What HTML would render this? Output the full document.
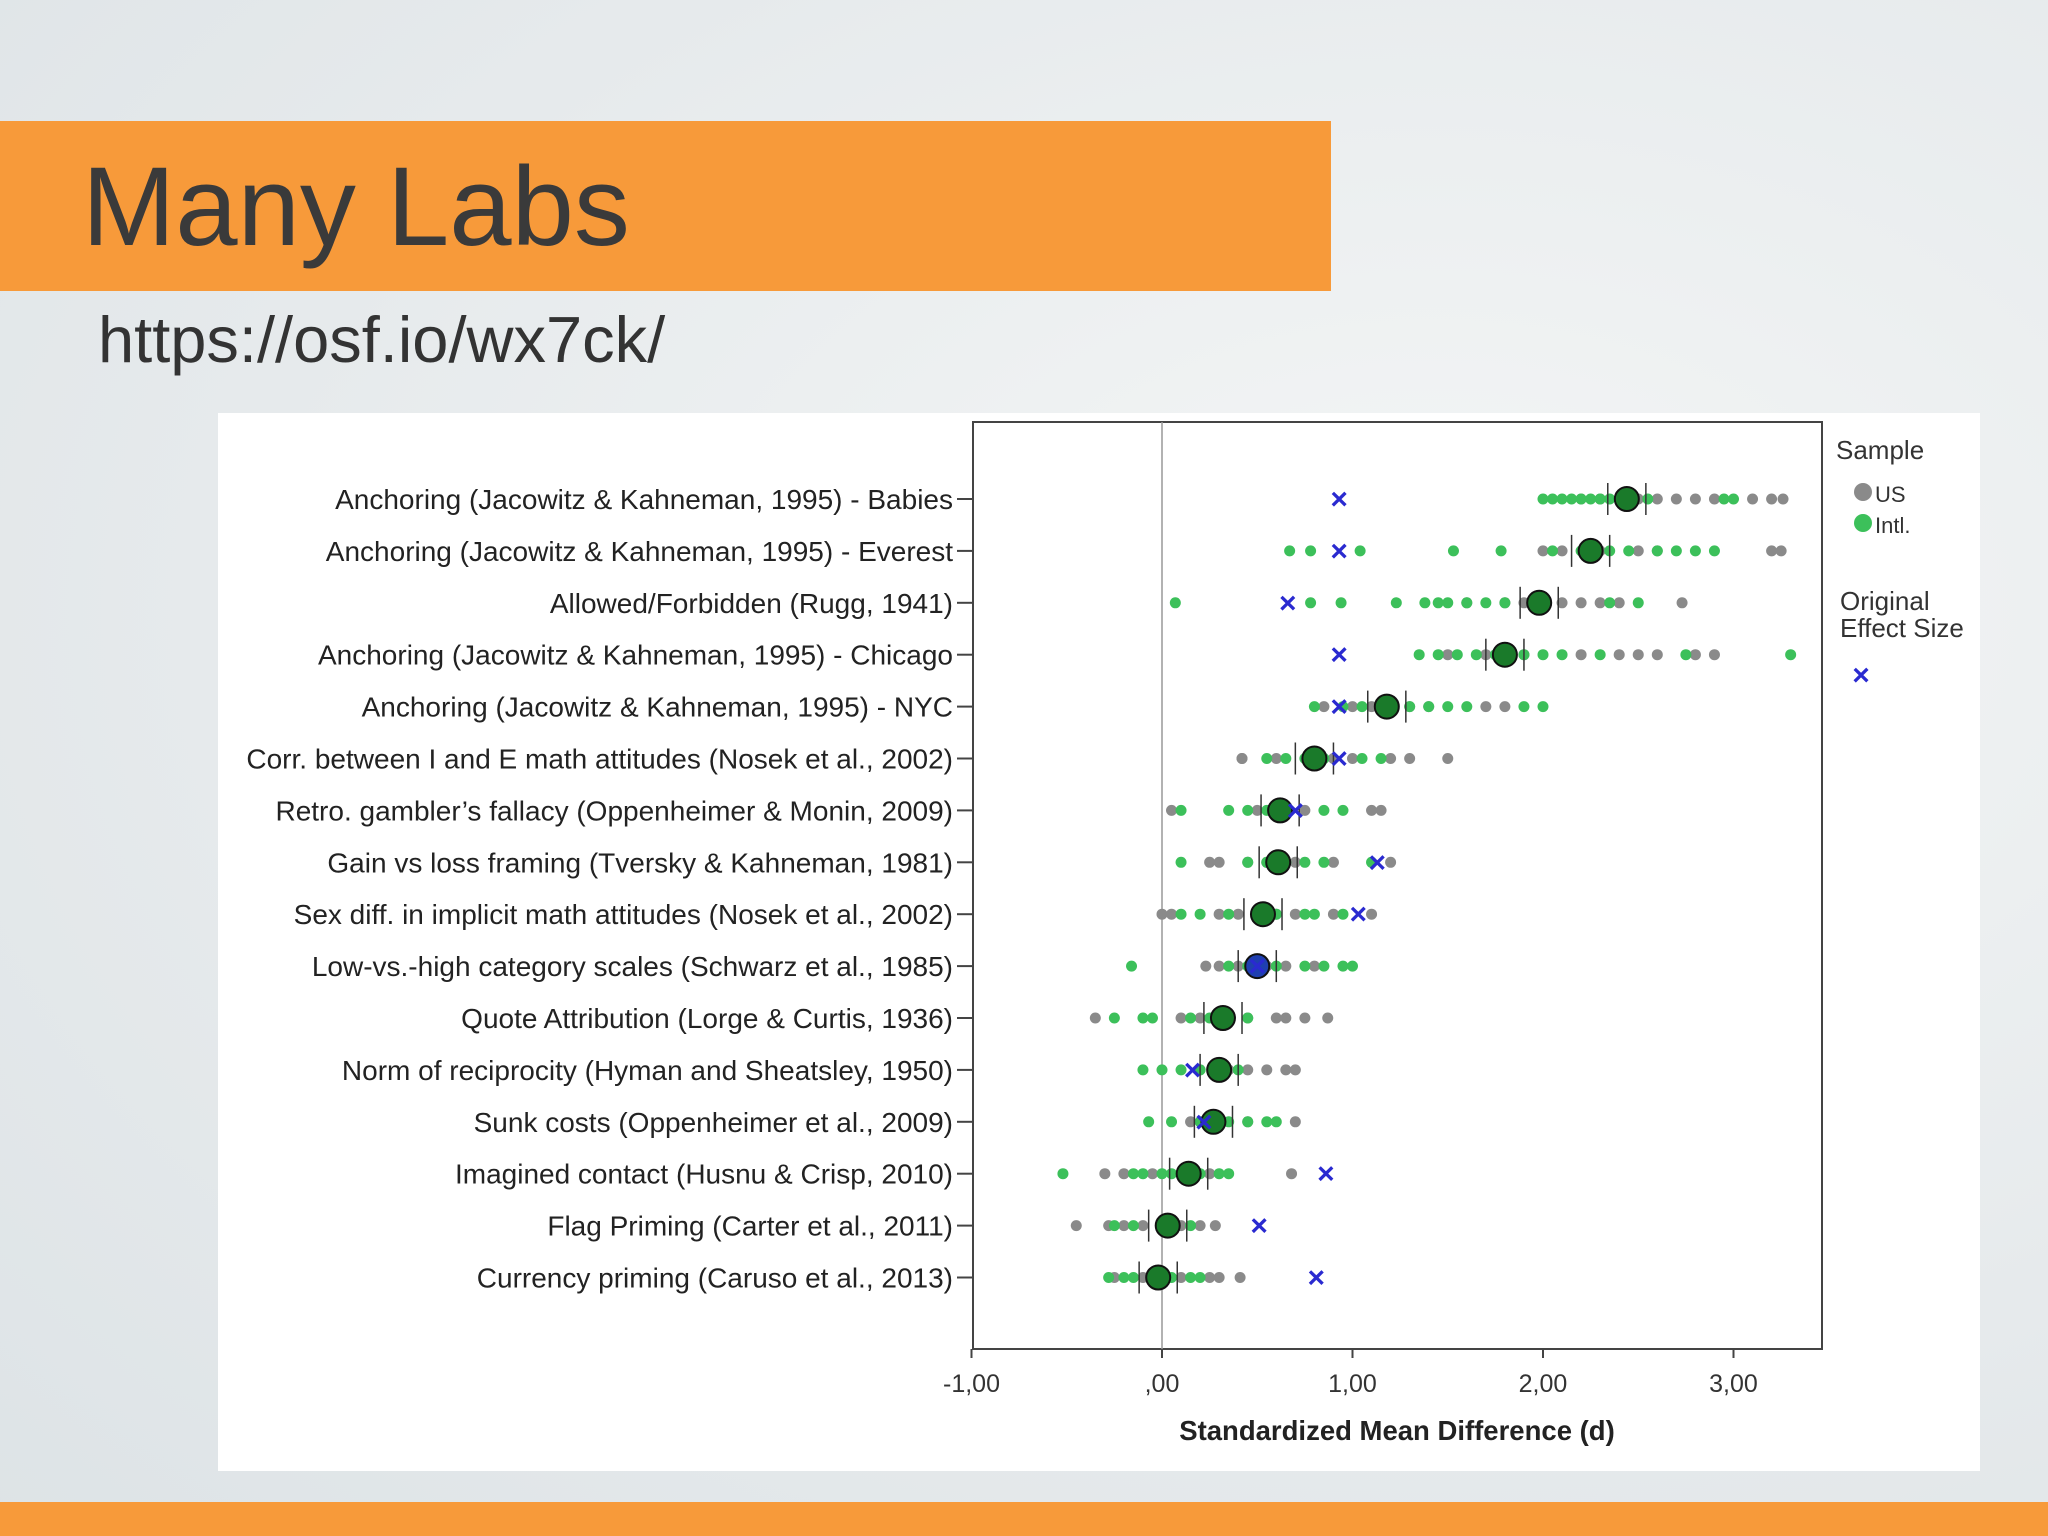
<!DOCTYPE html>
<html><head><meta charset="utf-8"><style>
body{margin:0;width:2048px;height:1536px;overflow:hidden;background:radial-gradient(ellipse at 70% 40%,#f4f6f6 0%,#e6eaec 60%,#dde3e6 100%);font-family:"Liberation Sans",sans-serif;position:relative}
.abs{position:absolute}
</style></head><body>
<div class="abs" style="left:0;top:121px;width:1331px;height:170px;background:#f79a3a"></div>
<div class="abs" style="left:82px;top:142px;font-size:112px;color:#3a3a3a;line-height:130px">Many Labs</div>
<div class="abs" style="left:98px;top:302px;font-size:65px;color:#333">https://osf.io/wx7ck/</div>
<div class="abs" style="left:0;top:1502px;width:2048px;height:34px;background:#f79a3a"></div>
<svg class="abs" style="left:0;top:0" width="2048" height="1536" id="svg"></svg>
<script>
const labels=["Anchoring (Jacowitz & Kahneman, 1995) - Babies","Anchoring (Jacowitz & Kahneman, 1995) - Everest","Allowed/Forbidden (Rugg, 1941)","Anchoring (Jacowitz & Kahneman, 1995) - Chicago","Anchoring (Jacowitz & Kahneman, 1995) - NYC","Corr. between I and E math attitudes (Nosek et al., 2002)","Retro. gambler’s fallacy (Oppenheimer & Monin, 2009)","Gain vs loss framing (Tversky & Kahneman, 1981)","Sex diff. in implicit math attitudes (Nosek et al., 2002)","Low-vs.-high category scales (Schwarz et al., 1985)","Quote Attribution (Lorge & Curtis, 1936)","Norm of reciprocity (Hyman and Sheatsley, 1950)","Sunk costs (Oppenheimer et al., 2009)","Imagined contact (Husnu & Crisp, 2010)","Flag Priming (Carter et al., 2011)","Currency priming (Caruso et al., 2013)"];
const means=[2.44,2.25,1.98,1.80,1.18,0.80,0.62,0.61,0.53,0.50,0.32,0.30,0.27,0.14,0.03,-0.02];
const original=[0.93,0.93,0.66,0.93,0.93,0.93,0.70,1.13,1.03,0.50,null,0.16,0.22,0.86,0.51,0.81];
const usDots=[[2.2,2.3,2.5,2.6,2.7,2.8,2.9,3.1,3.2,3.26],[2.0,2.1,2.3,2.5,2.6,3.2,3.25],[1.6,1.8,1.9,2.0,2.1,2.2,2.3,2.4,2.73],[1.5,1.7,1.9,2.2,2.4,2.5,2.6,2.8,2.9],[0.85,1.0,1.1,1.3,1.4,1.7,1.8],[0.42,0.42,0.6,0.85,0.9,1.0,1.2,1.3,1.5],[0.05,0.5,0.6,0.75,1.1,1.15],[0.25,0.3,0.45,0.55,0.7,0.9,1.2],[0.0,0.05,0.3,0.4,0.6,0.7,0.9,1.1],[0.23,0.3,0.4,0.55,0.65,0.8],[-0.35,0.1,0.2,0.45,0.6,0.65,0.75,0.87],[0.2,0.35,0.45,0.55,0.65,0.7],[0.15,0.3,0.45,0.7],[-0.3,-0.2,-0.05,0.1,0.25,0.68],[-0.45,-0.28,-0.2,-0.1,0.1,0.2,0.28],[-0.25,-0.1,0.1,0.25,0.3,0.41]];
const intlDots=[[2.0,2.05,2.1,2.15,2.2,2.25,2.3,2.35,2.55,2.95,3.0],[0.67,0.78,1.04,1.53,1.78,2.05,2.2,2.35,2.45,2.6,2.7,2.8,2.9],[0.07,0.78,0.94,1.23,1.38,1.45,1.5,1.6,1.7,1.8,2.35,2.5],[1.35,1.45,1.55,1.65,1.75,1.9,2.0,2.1,2.3,2.75,3.3],[0.8,0.95,1.05,1.2,1.3,1.4,1.5,1.6,1.9,2.0],[0.55,0.65,0.75,0.85,1.05,1.15],[0.1,0.35,0.45,0.55,0.65,0.85,0.95],[0.1,0.45,0.55,0.65,0.75,0.85,1.1],[0.1,0.2,0.35,0.5,0.6,0.75,0.8,0.95],[-0.16,0.35,0.45,0.6,0.75,0.85,0.95,1.0],[-0.25,-0.1,-0.05,0.15,0.25,0.35,0.45],[-0.1,0.0,0.1,0.2,0.3,0.4],[-0.07,0.05,0.2,0.3,0.35,0.45,0.55,0.6],[-0.52,-0.15,-0.1,0.0,0.05,0.2,0.3,0.35],[-0.25,-0.15,0.0,0.05,0.15],[-0.28,-0.2,-0.15,-0.05,0.05,0.15,0.2]];
const ticks=[-1,0,1,2,3];
const tickLabels=["-1,00",",00","1,00","2,00","3,00"];
const NS="http://www.w3.org/2000/svg",svg=document.getElementById("svg");
const X=d=>1162+d*190.5, Y=i=>499+i*51.9;
function mk(t,a,p){const e=document.createElementNS(NS,t);for(const k in a)e.setAttribute(k,a[k]);(p||svg).appendChild(e);return e;}
let bg=mk("rect",{x:218,y:413,width:1762,height:1058,fill:"#fff"});


let box=mk("rect",{x:973,y:422,width:849,height:927,fill:"none",stroke:"#444","stroke-width":2});


let zl=mk("line",{x1:X(0),x2:X(0),y1:422,y2:1349,stroke:"#999","stroke-width":1.5});


ticks.forEach((t,i)=>{
 let l=mk("line",{x1:X(t),x2:X(t),y1:1349,y2:1358,stroke:"#444","stroke-width":2});
 
 
 let tx=mk("text",{x:X(t),y:1392,"text-anchor":"middle","font-size":25,fill:"#333"});tx.textContent=tickLabels[i];
 
 
});
let at=mk("text",{x:1397,y:1440,"text-anchor":"middle","font-size":27.5,"font-weight":"bold",fill:"#222"});at.textContent="Standardized Mean Difference (d)";


labels.forEach((lb,i)=>{
 const y=Y(i);
 let t=mk("text",{x:953,y:y+10,"text-anchor":"end","font-size":28,fill:"#222"});t.textContent=lb;
 
 
 let tk=mk("line",{x1:957,x2:973,y1:y,y2:y,stroke:"#444","stroke-width":2});
 
 
 usDots[i].forEach(v=>{let c=mk("circle",{cx:X(v),cy:y,r:5.5,fill:"#8a8a8a"});
  
  });
 intlDots[i].forEach(v=>{let c=mk("circle",{cx:X(v),cy:y,r:5.5,fill:"#3cc05a"});
  
  });
 [-0.1,0.1].forEach(o=>{let l=mk("line",{x1:X(means[i]+o),x2:X(means[i]+o),y1:y-16,y2:y+16,stroke:"#333","stroke-width":1.5});
  
  });
 let m=mk("circle",{cx:X(means[i]),cy:y,r:12,fill:i==9?"#1f3fb0":"#1a7a2a",stroke:"#111","stroke-width":2});
 
 
 if(original[i]!==null){let x=mk("text",{x:X(original[i]),y:y+10,"text-anchor":"middle","font-size":30,"font-weight":"bold",fill:"#2a2ad0"});x.textContent="×";
  
  }
});
const leg=[["Sample",1836,459,26,"#333"],["US",1875,502,22,"#333"],["Intl.",1875,533,22,"#333"],["Original",1840,610,26,"#333"],["Effect Size",1840,637,26,"#333"]];
leg.forEach(l=>{let t=mk("text",{x:l[1],y:l[2],"font-size":l[3],fill:l[4]});t.textContent=l[0];
 
 });
let c1=mk("circle",{cx:1863,cy:492,r:9,fill:"#8a8a8a"});


let c2=mk("circle",{cx:1863,cy:523,r:9,fill:"#3cc05a"});


let lx=mk("text",{x:1861,y:685,"text-anchor":"middle","font-size":30,"font-weight":"bold",fill:"#2a2ad0"});lx.textContent="×";


</script>
</body></html>
